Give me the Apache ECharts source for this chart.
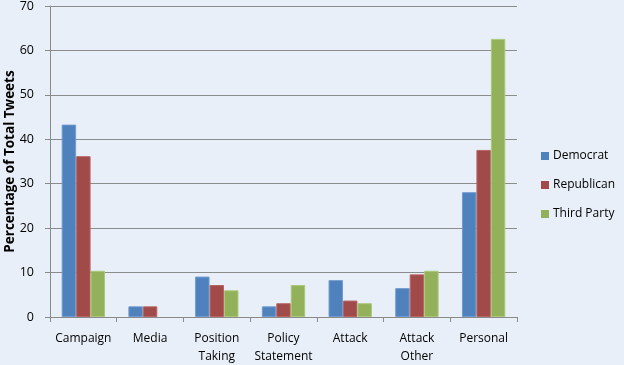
<!DOCTYPE html>
<html><head><meta charset="utf-8">
<script src="https://cdn.jsdelivr.net/npm/echarts@6/dist/echarts.min.js"></script>
<style>html,body{margin:0;padding:0;background:#E9EFF8;}#c{width:624px;height:365px;}</style>
</head><body><div id="c"></div>
<script>
const categories = ['Campaign','Media','Position\nTaking','Policy\nStatement','Attack','Attack\nOther','Personal'];
const democrat = [43.3, 2.4, 9.1, 2.4, 8.3, 6.5, 28.1];
const republican = [36.2, 2.4, 7.2, 3.1, 3.7, 9.6, 37.6];
const thirdParty = [10.4, 0, 6.0, 7.2, 3.1, 10.4, 62.6];
const yTicks = [0, 10, 20, 30, 40, 50, 60, 70];
const font = 'Open Sans';
const chart = echarts.init(document.getElementById('c'));
const mk = (name, data, color, border) => ({
  name, type: 'bar', barGap: '0%', barCategoryGap: '35%',
  data: data.map(v => v === 0 ? { value: v, itemStyle: { borderWidth: 0 } } : v),
  itemStyle: { color, borderColor: border, borderWidth: 1 }
});
chart.setOption({
  backgroundColor: '#E9EFF8',
  animation: false,
  grid: { show: false, borderWidth: 0, left: 50, right: 107, top: 6, bottom: 48, containLabel: false, outerBoundsMode: 'none' },
  legend: {
    orient: 'vertical', left: 536, top: 145, itemWidth: 8, itemHeight: 8, itemGap: 17,
    icon: 'rect', itemStyle: { borderWidth: 0 },
    textStyle: { fontFamily: font, fontSize: 12, color: '#000', padding: [0, 0, 0, -1] },
    data: ['Democrat','Republican','Third Party']
  },
  xAxis: {
    type: 'category', data: categories,
    axisLine: { lineStyle: { color: '#8a8a8a', width: 1 } },
    axisTick: { show: true, length: 5, interval: 0, lineStyle: { color: '#8a8a8a' } },
    axisLabel: { fontFamily: font, fontSize: 12, color: '#000', margin: 13, lineHeight: 18, interval: 0 },
    splitLine: { show: true, lineStyle: { color: 'rgba(0,0,0,0)', width: 0 } },
    minorSplitLine: { show: false }
  },
  yAxis: {
    type: 'value', min: yTicks[0], max: yTicks[yTicks.length-1], interval: 10,
    name: 'Percentage of Total Tweets', nameLocation: 'middle', nameGap: 33, nameMoveOverlap: false,
    nameTextStyle: { fontFamily: font, fontSize: 13.5, fontWeight: 'bold', color: '#000' },
    axisLine: { show: true, onZero: false, lineStyle: { color: '#8a8a8a' } },
    axisTick: { show: true, length: 5, lineStyle: { color: '#8a8a8a' } },
    axisLabel: { fontFamily: font, fontSize: 12.5, color: '#000', margin: 16 },
    splitLine: { lineStyle: { color: '#8c8c8c', width: 1 } }
  },
  series: [
    mk('Democrat', democrat, '#4F81BD', '#6f9bd3'),
    mk('Republican', republican, '#A04B4A', '#b86463'),
    mk('Third Party', thirdParty, '#93B15A', '#aac878')
  ]
});
</script></body></html>
